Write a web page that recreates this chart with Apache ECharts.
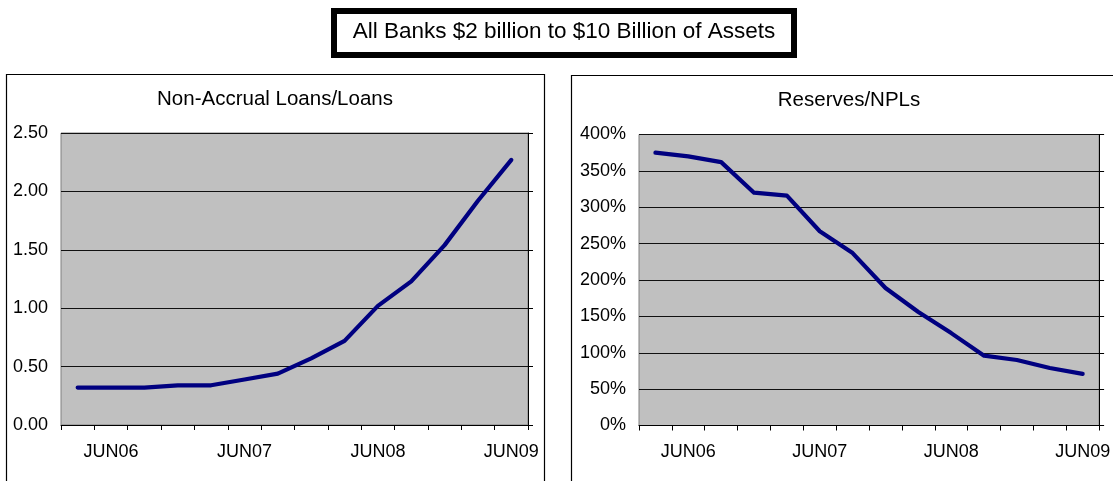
<!DOCTYPE html>
<html>
<head>
<meta charset="utf-8">
<script src="https://cdn.jsdelivr.net/npm/echarts@6/dist/echarts.min.js"></script>
<style>
  html, body { margin: 0; padding: 0; background: #fff; }
  #chart { width: 1113px; height: 481px; }
</style>
</head>
<body>
<div id="chart"></div>
<script>
// quarterly points, only the JUN ones get a label
var quarters = ['MAR06', 'JUN06', 'SEP06', 'DEC06', 'MAR07', 'JUN07', 'SEP07', 'DEC07',
                'MAR08', 'JUN08', 'SEP08', 'DEC08', 'MAR09', 'JUN09'];
var nonAccrual = [0.32, 0.32, 0.32, 0.34, 0.34, 0.39, 0.44, 0.57, 0.72, 1.02, 1.23, 1.54, 1.92, 2.27];
var reservesNpl = [375, 370, 362, 320, 316, 267, 237, 189, 156, 127, 96, 90, 79, 71];

var mainTitle = 'All Banks $2 billion to $10 Billion of Assets';
var leftTitle = 'Non-Accrual Loans/Loans';
var rightTitle = 'Reserves/NPLs';

var FONT = '"Liberation Sans", Arial, Helvetica, sans-serif';
var chart = echarts.init(document.getElementById('chart'));

// x axis shared look
function catAxis(gridIndex){
    return {
        type: 'category',
        gridIndex: gridIndex,
        data: quarters,
        boundaryGap: true,
        axisLine: { show: true, lineStyle: { color: '#000', width: 1 } },
        axisTick: { show: true, interval: 0, length: 5, lineStyle: { color: '#000' } },
        axisLabel: {
            interval: function(i, v){ return v.indexOf('JUN') === 0; },
            color: '#000', fontSize: 18, fontFamily: FONT, margin: 18
        },
        splitLine: { show: false }
    };
}
// left value axis (labels + grid lines)
function valAxis(gridIndex, max, step, fmt){
    return {
        type: 'value',
        gridIndex: gridIndex,
        min: 0, max: max, interval: step,
        axisLine: { show: false },
        axisTick: { show: false },
        axisLabel: { color: '#000', fontSize: 18, fontFamily: FONT, margin: 13, formatter: fmt },
        splitLine: { show: true, lineStyle: { color: '#111', width: 1 } }
    };
}
// right side: just the black line with outward ticks
function sideAxis(gridIndex, max, step){
    return {
        type: 'value',
        gridIndex: gridIndex,
        position: 'right',
        min: 0, max: max, interval: step,
        axisLine: { show: true, lineStyle: { color: '#000', width: 1 } },
        axisTick: { show: true, length: 5, lineStyle: { color: '#000' } },
        axisLabel: { show: false },
        splitLine: { show: false }
    };
}

var option = {
    backgroundColor: '#fff',
    animation: false,
    grid: [
        { left: 61, top: 133, right: 585, bottom: 56, show: true, backgroundColor: '#c0c0c0', borderColor: '#808080', borderWidth: 1 },
        { left: 639, top: 134.5, right: 9, bottom: 55.5, show: true, backgroundColor: '#c0c0c0', borderColor: '#808080', borderWidth: 1 }
    ],
    xAxis: [catAxis(0), catAxis(1)],
    yAxis: [
        valAxis(0, 2.5, 0.5, function(v){ return v.toFixed(2); }),
        sideAxis(0, 2.5, 0.5),
        valAxis(1, 400, 50, '{value}%'),
        sideAxis(1, 400, 50)
    ],
    series: [
        {
            name: leftTitle, type: 'line', xAxisIndex: 0, yAxisIndex: 0,
            data: nonAccrual, showSymbol: false, symbol: 'none',
            lineStyle: { color: '#000080', width: 4.2, cap: 'round', join: 'round' }
        },
        {
            name: rightTitle, type: 'line', xAxisIndex: 1, yAxisIndex: 2,
            data: reservesNpl, showSymbol: false, symbol: 'none',
            lineStyle: { color: '#000080', width: 4.2, cap: 'round', join: 'round' }
        }
    ],
    graphic: [
        // outer frames of the two panels
        { type: 'rect', z: -1, shape: { x: 6.5, y: 74.5, width: 538, height: 420 }, style: { fill: '#fff', stroke: '#000', lineWidth: 1.2 } },
        { type: 'rect', z: -1, shape: { x: 571.5, y: 75.5, width: 560, height: 420 }, style: { fill: '#fff', stroke: '#000', lineWidth: 1.2 } },
        // heading box
        { type: 'rect', shape: { x: 334, y: 11, width: 460, height: 44 }, style: { fill: '#fff', stroke: '#000', lineWidth: 6 } },
        { type: 'text', x: 564, y: 32, style: { text: mainTitle, font: '22.5px ' + FONT, fill: '#000', align: 'center', verticalAlign: 'middle', textAlign: 'center', textVerticalAlign: 'middle' } },
        { type: 'text', x: 275, y: 99, style: { text: leftTitle, font: '20.5px ' + FONT, fill: '#000', align: 'center', verticalAlign: 'middle', textAlign: 'center', textVerticalAlign: 'middle' } },
        { type: 'text', x: 849, y: 100, style: { text: rightTitle, font: '20.5px ' + FONT, fill: '#000', align: 'center', verticalAlign: 'middle', textAlign: 'center', textVerticalAlign: 'middle' } }
    ]
};
chart.setOption(option);
</script>
</body>
</html>
